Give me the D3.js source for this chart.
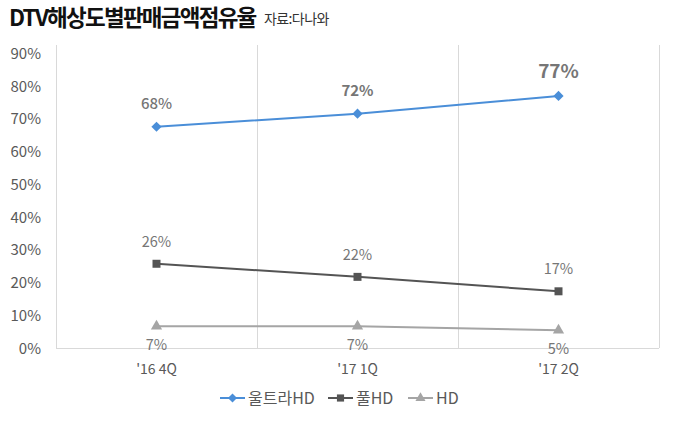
<!DOCTYPE html>
<html><head><meta charset="utf-8">
<script src="https://cdn.jsdelivr.net/npm/d3@7"></script>
<style>body{margin:0;background:#fff}svg{display:block}</style>
</head><body>
<svg id="c" width="676" height="421"></svg>
<script>
const categories = ["'16 4Q", "'17 1Q", "'17 2Q"];
const ultraHD = [67.5, 71.5, 76.9];
const fullHD = [25.7, 21.7, 17.3];
const hd = [6.6, 6.6, 5.4];
const ultraLabels = ["68%", "72%", "77%"];
const fullLabels = ["26%", "22%", "17%"];
const hdLabels = ["7%", "7%", "5%"];
const yTicks = [0, 10, 20, 30, 40, 50, 60, 70, 80, 90];
const seriesNames = ["울트라HD", "풀HD", "HD"];

const svg = d3.select("#c");
const font = "'Noto Sans CJK KR','Noto Sans',sans-serif";
const L = 56, R = 659, T = 53, B = 348;
const x = d3.scaleBand().domain(categories).range([L, R]);
const y = d3.scaleLinear().domain([0, 90]).range([B, T]);

// title
svg.append("text").attr("x", 9).attr("y", 26).attr("font-family", font)
  .attr("font-size", 22.5).attr("font-weight", 700).attr("letter-spacing", -1.75).attr("fill", "#111")
  .text("DTV해상도별판매금액점유율");
svg.append("text").attr("x", 264).attr("y", 24).attr("font-family", font)
  .attr("font-size", 14).attr("letter-spacing", -0.6).attr("fill", "#333").text("자료:다나와");

// vertical gridlines at band edges
const edges = [L, ...categories.map(c => x(c) + x.bandwidth())];
svg.append("g").selectAll("line").data(edges).join("line")
  .attr("x1", d => d).attr("x2", d => d).attr("y1", T - 8).attr("y2", B)
  .attr("stroke", "#d9d9d9").attr("stroke-width", 1).attr("shape-rendering", "crispEdges");
// baseline
svg.append("line").attr("x1", L).attr("x2", R).attr("y1", B).attr("y2", B)
  .attr("stroke", "#d9d9d9").attr("shape-rendering", "crispEdges");

// y axis
const yAxis = d3.axisLeft(y).tickValues(yTicks).tickFormat(d => d + "%").tickSize(0).tickPadding(0);
const ga = svg.append("g").attr("transform", `translate(41,0)`).call(yAxis);
ga.select(".domain").remove();
ga.selectAll("text").attr("font-family", font).attr("font-size", 15).attr("fill", "#595959").attr("dy", "0.35em");

// x axis
const xAxis = d3.axisBottom(x).tickSize(0).tickPadding(0);
const gx = svg.append("g").attr("transform", `translate(0,${B + 16})`).call(xAxis);
gx.select(".domain").remove();
gx.selectAll("text").attr("font-family", font).attr("font-size", 14).attr("fill", "#595959").attr("dy", "0.71em");

const cx = c => x(c) + x.bandwidth() / 2;
const series = [
  {vals: ultraHD, labels: ultraLabels, color: "#4a8ed8", shape: d3.symbolSquare, size: 52, rot: 45},
  {vals: fullHD, labels: fullLabels, color: "#545454", shape: d3.symbolSquare, size: 64, rot: 0},
  {vals: hd, labels: hdLabels, color: "#a5a5a5", shape: d3.symbolTriangle, size: 55, rot: 0}
];
const line = d3.line().x((d, i) => cx(categories[i])).y(d => y(d));
series.forEach(s => {
  svg.append("path").datum(s.vals).attr("d", line).attr("fill", "none")
    .attr("stroke", s.color).attr("stroke-width", 2);
  svg.append("g").selectAll("path").data(s.vals).join("path")
    .attr("transform", (d, i) => `translate(${cx(categories[i])},${y(d)}) rotate(${s.rot})`)
    .attr("d", d3.symbol().type(s.shape).size(s.size)).attr("fill", s.color);
});

// data labels
const lab = (xx, yy, t, size, weight) => svg.append("text").attr("x", xx).attr("y", yy)
  .attr("text-anchor", "middle").attr("font-family", font).attr("font-size", size)
  .attr("font-weight", weight).attr("fill", "#767676").text(t);
const ultraStyle = [[15, 500], [15, 700], [19, 700]];
ultraHD.forEach((v, i) => lab(cx(categories[i]), y(v) - 18, ultraLabels[i], ultraStyle[i][0], ultraStyle[i][1]));
fullHD.forEach((v, i) => lab(cx(categories[i]), y(v) - 17, fullLabels[i], 14.5, 400));
hd.forEach((v, i) => lab(cx(categories[i]), y(v) + 24, hdLabels[i], 14.5, 400));

// legend
const leg = svg.append("g");
const lx = [220, 328, 408];
series.forEach((s, i) => {
  const g = leg.append("g").attr("transform", `translate(${lx[i]},398)`);
  g.append("line").attr("x1", 0).attr("x2", 25).attr("stroke", s.color).attr("stroke-width", 2);
  g.append("path").attr("transform", `translate(12.5,0) rotate(${s.rot})`).attr("d", d3.symbol().type(s.shape).size(s.size * 0.8)).attr("fill", s.color);
  g.append("text").attr("x", 28).attr("dy", "0.35em").attr("font-family", font).attr("font-size", 16)
    .attr("fill", "#595959").text(seriesNames[i]);
});
</script>
</body></html>
